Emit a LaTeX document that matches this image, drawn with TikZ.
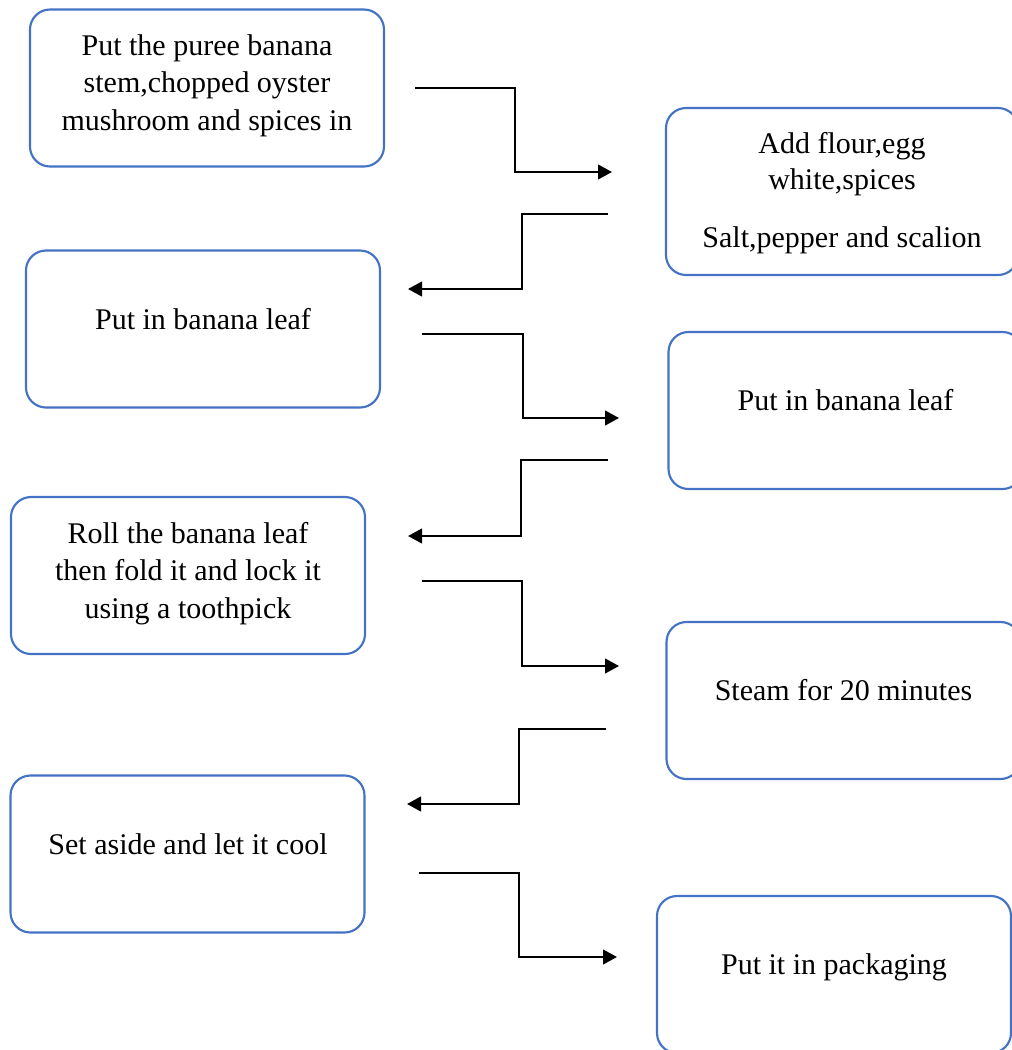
\documentclass[tikz,border=0pt]{standalone}
\usepackage{fontspec}
\setmainfont{Liberation Serif}
\usepackage{tikz}
\usetikzlibrary{positioning}
\usetikzlibrary{arrows.meta}
\definecolor{boxblue}{HTML}{4472C4}
\tikzset{
  stepbox/.style={shape=rectangle,draw=boxblue,line width=1.6pt,rounded corners=15pt,minimum width=265.5pt,minimum height=117.75pt,inner sep=0},
  steptext/.style={anchor=base,align=center,inner sep=0,font=\fontsize{22.5pt}{28.1pt}\selectfont},
  flow/.style={draw=black,line width=1.6pt,-{Triangle[length=10.5pt,width=11pt]}}
}
\begin{document}
\begin{tikzpicture}[x=0.75pt,y=-0.75pt]
      \useasboundingbox (0,0) rectangle (1012,1050);
      \clip (0,0) rectangle (1012,1050);
      % boxes
      \node[stepbox] (b1) at (207,88) {};
      \node[stepbox,minimum width=264pt,minimum height=125.25pt] (b2) at (842,191.5) {};
      \node[stepbox] (b3) at (203,329) {};
      \node[stepbox] (b4) at (845.5,410.5) {};
      \node[stepbox] (b5) at (188,575.5) {};
      \node[stepbox] (b6) at (843.5,700.5) {};
      \node[stepbox] (b7) at (187.5,854) {};
      \node[stepbox] (b8) at (834,974.5) {};
      % texts (base = last line)
      \node[steptext] (t1) at (207,130) {Put the puree banana\\stem,chopped oyster\\mushroom and spices in};
      \node[steptext,font=\fontsize{22.5pt}{27pt}\selectfont] (t2) at (842,247) {Add flour,egg\\white,spices\\[16.5pt]Salt,pepper and scalion};
      \node[steptext] (t3) at (203,329) {Put in banana leaf};
      \node[steptext] (t4) at (845.5,410) {Put in banana leaf};
      \node[steptext] (t5) at (188,618) {Roll the banana leaf\\then fold it and lock it\\using a toothpick};
      \node[steptext] (t6) at (843.5,700) {Steam for 20 minutes};
      \node[steptext] (t7) at (188,854) {Set aside and let it cool};
      \node[steptext] (t8) at (834,974) {Put it in packaging};
      % arrow ends
      \coordinate (a1s) at (415,88);  \coordinate (a1e) at (612,172);
      \coordinate (a2s) at (608,214); \coordinate (a2e) at (408,289);
      \coordinate (a3s) at (422,334); \coordinate (a3e) at (619,418);
      \coordinate (a4s) at (608,460); \coordinate (a4e) at (408,536);
      \coordinate (a5s) at (422,581); \coordinate (a5e) at (619,666);
      \coordinate (a6s) at (606,729); \coordinate (a6e) at (407,804);
      \coordinate (a7s) at (419,873); \coordinate (a7e) at (617,957);
      \begin{scope}
        \draw[flow] (a1s) -- ++(100,0) |- (a1e);
        \draw[flow] (a2s) -- ++(-86,0) |- (a2e);
        \draw[flow] (a3s) -- ++(101,0) |- (a3e);
        \draw[flow] (a4s) -- ++(-87,0) |- (a4e);
        \draw[flow] (a5s) -- ++(100,0) |- (a5e);
        \draw[flow] (a6s) -- ++(-87,0) |- (a6e);
        \draw[flow] (a7s) -- ++(100,0) |- (a7e);
      \end{scope}
    \end{tikzpicture}
\end{document}
